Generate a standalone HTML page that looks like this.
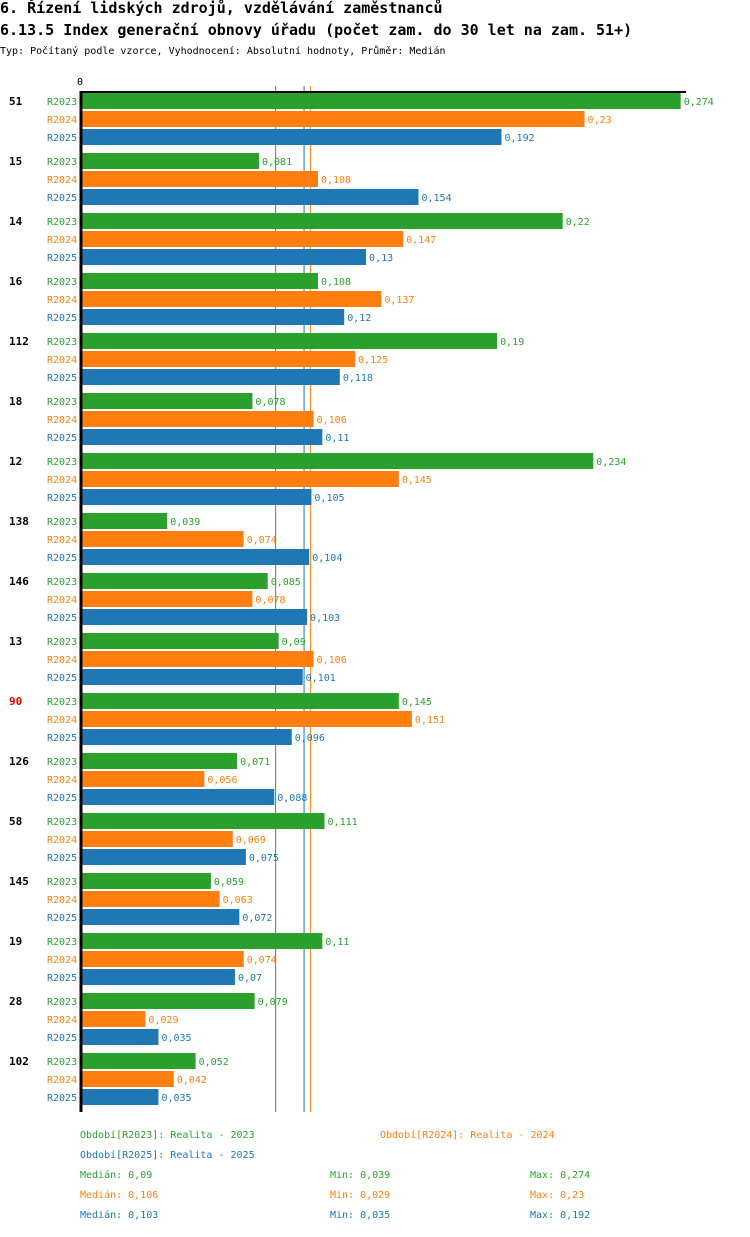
<!DOCTYPE html>
<html><head><meta charset="utf-8"><style>
body{margin:0;background:#fff;width:750px;height:1232px;overflow:hidden}
svg text{font-family:"DejaVu Sans Mono","Liberation Mono",monospace}
</style></head><body>
<svg width="750" height="1232" xmlns="http://www.w3.org/2000/svg" id="chart">
<text x="0" y="13" font-size="15" font-weight="bold">6. Řízení lidských zdrojů, vzdělávání zaměstnanců</text>
<text x="0" y="35" font-size="15" font-weight="bold">6.13.5 Index generační obnovy úřadu (počet zam. do 30 let na zam. 51+)</text>
<text x="0" y="54" font-size="10">Typ: Počítaný podle vzorce, Vyhodnocení: Absolutní hodnoty, Průměr: Medián</text>
<g id="medians"></g>
<g id="bars"></g>
<line x1="80" y1="92" x2="686" y2="92" stroke="#000" stroke-width="2"/>
<line x1="81" y1="91" x2="81" y2="1112" stroke="#000" stroke-width="3"/>
<text x="77" y="85" font-size="10">0</text>
<g font-size="10">
<text x="80" y="1138" fill="#2ca02c">Období[R2023]: Realita - 2023</text>
<text x="380" y="1138" fill="#ff7f0e">Období[R2024]: Realita - 2024</text>
<text x="80" y="1158" fill="#1f77b4">Období[R2025]: Realita - 2025</text>
</g>
<g id="stats" font-size="10"></g>
</svg>
<script>
const groups=["51","15","14","16","112","18","12","138","146","13","90","126","58","145","19","28","102"];
const seriesNames=["R2023","R2024","R2025"];
const r2023=[0.274,0.081,0.22,0.108,0.19,0.078,0.234,0.039,0.085,0.09,0.145,0.071,0.111,0.059,0.11,0.079,0.052];
const r2024=[0.23,0.108,0.147,0.137,0.125,0.106,0.145,0.074,0.078,0.106,0.151,0.056,0.069,0.063,0.074,0.029,0.042];
const r2025=[0.192,0.154,0.13,0.12,0.118,0.11,0.105,0.104,0.103,0.101,0.096,0.088,0.075,0.072,0.07,0.035,0.035];
const medians=[0.09,0.106,0.103];
const mins=[0.039,0.029,0.035];
const maxs=[0.274,0.23,0.192];
const highlight="90";
const colors=["#2ca02c","#ff7f0e","#1f77b4"];
const NS="http://www.w3.org/2000/svg";
const x=v=>82+v*2185;
const y=(g,s)=>93+g*60+s*18;
const fmt=v=>String(v).replace(".",",");
function mk(tag,attrs,parent,text){const e=document.createElementNS(NS,tag);for(const k in attrs)e.setAttribute(k,attrs[k]);if(text!==undefined)e.textContent=text;parent.appendChild(e);return e;}
const mg=document.getElementById("medians");
medians.forEach((m,i)=>{
  const l=mk("line",{x1:x(m)-3,x2:x(m)-3,y1:86,y2:1112,stroke:colors[i],"stroke-width":1},mg);
  
  
});
const bg=document.getElementById("bars");
const data=[r2023,r2024,r2025];
groups.forEach((g,gi)=>{
  const t=mk("text",{x:9,y:y(gi,0)+12,"font-size":11,"font-weight":"bold",fill:g===highlight?"#e00":"#000"},bg,g);
  
  
  data.forEach((arr,si)=>{
    const v=arr[gi];
    const lb=mk("text",{x:47,y:y(gi,si)+12,"font-size":10,fill:colors[si]},bg,seriesNames[si]);
    
    
    const r=mk("rect",{x:82,y:y(gi,si),width:x(v)-82,height:16,fill:colors[si]},bg);
    
    
    const vl=mk("text",{x:x(v)+3,y:y(gi,si)+12,"font-size":10,fill:colors[si]},bg,fmt(v));
    
    
  });
});
const sg=document.getElementById("stats");
seriesNames.forEach((s,i)=>{
  const yy=1178+i*20;
  const a=mk("text",{x:80,y:yy,fill:colors[i]},sg,"Medián: "+fmt(medians[i]));
  
  
  const b=mk("text",{x:330,y:yy,fill:colors[i]},sg,"Min: "+fmt(mins[i]));
  
  
  const c=mk("text",{x:530,y:yy,fill:colors[i]},sg,"Max: "+fmt(maxs[i]));
  
  
});
</script>
</body></html>
